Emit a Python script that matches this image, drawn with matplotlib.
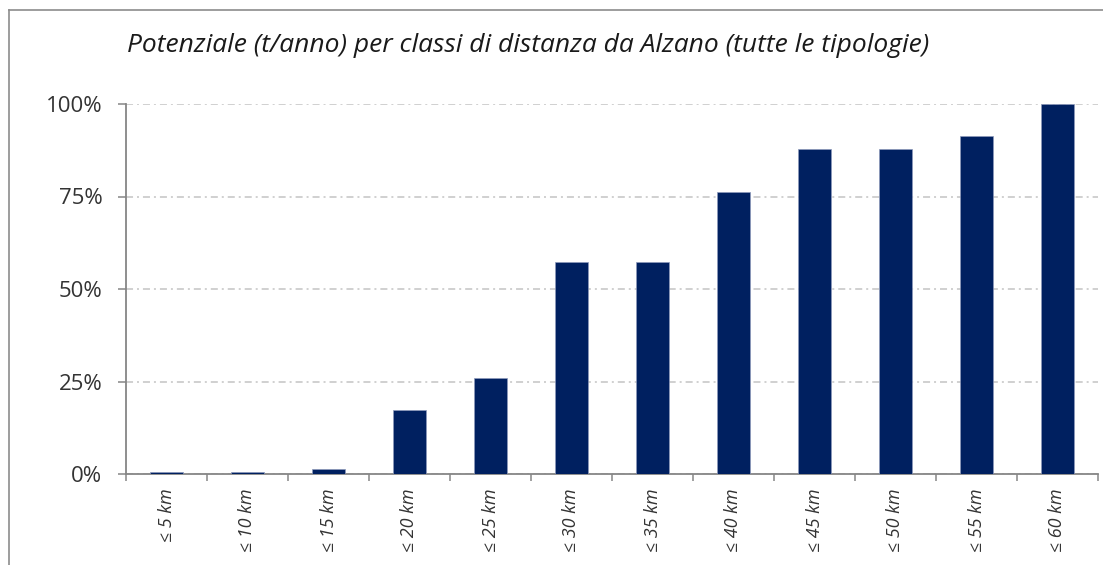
import matplotlib
matplotlib.use('Agg')
import matplotlib.pyplot as plt
from matplotlib.lines import Line2D
from matplotlib.ticker import FixedLocator

classes = ['≤ 5 km', '≤ 10 km', '≤ 15 km', '≤ 20 km', '≤ 25 km', '≤ 30 km',
           '≤ 35 km', '≤ 40 km', '≤ 45 km', '≤ 50 km', '≤ 55 km', '≤ 60 km']
potenziale = [0.6, 0.6, 1.3, 17.3, 26.0, 57.2, 57.2, 76.3, 87.9, 87.9, 91.4, 100.0]
y_ticks = [0, 25, 50, 75, 100]
title = 'Potenziale (t/anno) per classi di distanza da Alzano (tutte le tipologie)'

W, H = 1103, 565
plt.rcParams['font.family'] = ['Open Sans', 'DejaVu Sans']

fig = plt.figure(figsize=(W / 100, H / 100), dpi=100)
ax = fig.add_axes([126 / W, (H - 474) / H, (1098 - 126) / W, (474 - 104) / H])

x = range(len(classes))
ax.bar(x, potenziale, width=0.4, color='#002060', edgecolor='#8e9abb',
       linewidth=0.5, zorder=5)

ax.set_xlim(-0.5, len(classes) - 0.5)
ax.set_ylim(0, 100)

ax.set_yticks(y_ticks)
ax.set_yticklabels([f'{v}%' for v in y_ticks])
ax.yaxis.grid(True, color='#c4c4c4', linewidth=1.1,
              linestyle=(0, (4.6, 2.6, 1.3, 2.6)), zorder=0)
ax.tick_params(axis='y', direction='out', length=6, width=1.1,
               color='#868686', labelsize=16, labelcolor='#333333', pad=11)

ax.set_xticks(list(x))
ax.set_xticklabels(classes, rotation=90, style='italic', fontsize=13,
                   color='#333333')
ax.xaxis.set_minor_locator(FixedLocator([i - 0.5 for i in range(len(classes) + 1)]))
ax.tick_params(axis='x', which='major', length=0, pad=10)
ax.tick_params(axis='x', which='minor', direction='out', length=5, width=1.1,
               color='#868686')

for side in ['top', 'right']:
    ax.spines[side].set_visible(False)
for side in ['left', 'bottom']:
    ax.spines[side].set_color('#868686')
    ax.spines[side].set_linewidth(1.3)
    ax.spines[side].set_zorder(4)

fig.text(127 / W, 1 - 52 / H, title, style='italic', fontsize=19,
         color='#1a1a1a', va='baseline', ha='left')

# cornice esterna
fig.add_artist(Line2D([8.5 / W, 8.5 / W], [0, 1 - 10 / H], color='#8c8c8c', lw=1.2))
fig.add_artist(Line2D([8.5 / W, 1], [1 - 10 / H, 1 - 10 / H], color='#8c8c8c', lw=1.2))

fig.savefig('out.png', dpi=100)
